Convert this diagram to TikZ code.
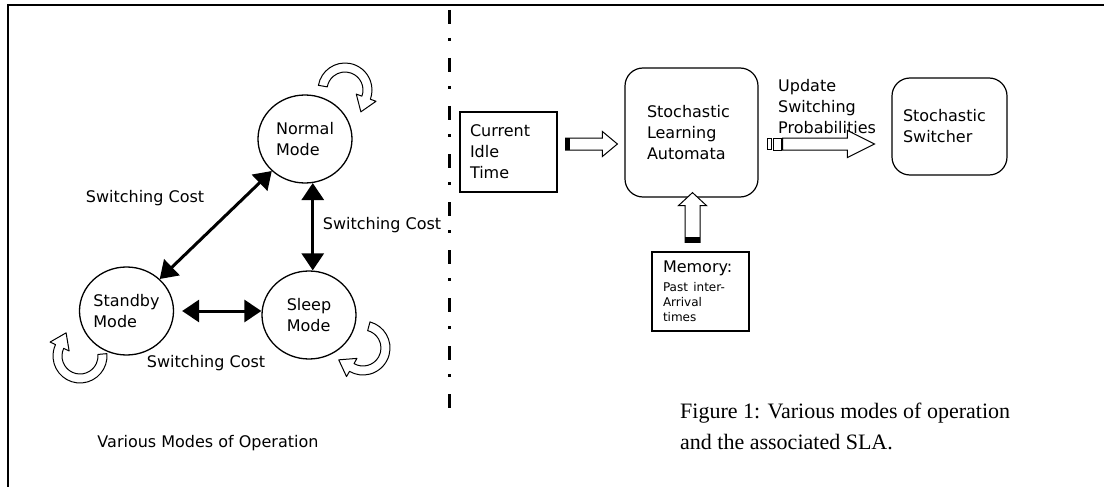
\documentclass[tikz,border=0pt]{standalone}
\usepackage{fontspec}
\setmainfont{DejaVu Sans}
\newfontfamily\capfont{Liberation Serif}
\usetikzlibrary{arrows.meta,shapes.geometric,calc}

% curved hollow arrow beside a mode: centre, start angle, end angle
\newcommand{\selfloop}[3]{%
  \draw[looparrow] ($(#1)+(#2:27)$) arc[start angle=#2, end angle=#3, radius=27]
    -- ($(#1)+(#3:33)$) -- ($(#1)+({#3-34}:27)$) -- ($(#1)+(#3:12)$)
    -- ($(#1)+(#3:18)$) arc[start angle=#3, end angle=#2, radius=18] -- cycle;}

% hollow block arrow: tail, tip, shaft half width, head half width, head length
\newcommand{\hollowarrow}[5]{%
  \coordinate (hb) at ($(#2)!#5!(#1)$);
  \draw[blockarrow] ($(#1)!#3!90:(#2)$) -- ($(hb)!#3!90:(#2)$)
    -- ($(hb)!#4!90:(#2)$) -- (#2) -- ($(hb)!#4!-90:(#2)$)
    -- ($(hb)!#3!-90:(#2)$) -- ($(#1)!#3!-90:(#2)$) -- cycle;}

\begin{document}
\begin{tikzpicture}[x=1pt, y=1pt,
    every node/.style={font=\fontsize{16}{21}\selectfont, inner sep=0pt},
    mode/.style={ellipse, draw, line width=1.3pt, minimum width=94pt,
      minimum height=88pt, align=left},
    modearrow/.style={line width=3pt,
      {Triangle[length=17pt,width=22pt]}-{Triangle[length=17pt,width=22pt]}},
    looparrow/.style={fill=white, draw, line width=1pt, line join=round},
    plainbox/.style={draw, line width=1.2pt, align=left},
    roundbox/.style={plainbox, rounded corners=18pt},
    blockarrow/.style={fill=white, draw, line width=1pt},
    divider/.style={line width=3pt, dash pattern=on 14pt off 14pt on 3pt off 17pt},
    frame/.style={line width=1.2pt},
    caption/.style={font=\capfont\fontsize{22}{31}\selectfont, align=left}]
    \useasboundingbox (0,0) rectangle (1104,-487);
    % frame and divider
    \draw[frame] (8,-487) -- (8,-5) -- (1104,-5);
    \draw[divider] (449,-10) -- (449,-408);
    % operating modes
    \node[mode] (normal)  at (305,-139)   {Normal\\Mode};
    \node[mode] (standby) at (126.5,-311) {Standby\\Mode};
    \node[mode] (sleep)   at (309,-315)   {Sleep\\Mode};
    % transitions
    \draw[modearrow] (normal) -- (standby);
    \draw[modearrow] (normal.280) -- (normal.280 |- sleep.north);
    \draw[modearrow] ([xshift=8pt]standby.east) -- (standby.east -| sleep.west);
    % switching cost labels
    \node (cost-ns) at (145,-198) {Switching Cost};
    \node (cost-nl) at (382,-225) {Switching Cost};
    \node (cost-sl) at (206,-363) {Switching Cost};
    % self loops
    \selfloop{345,-90}{170}{-20}
    \selfloop{80,-356}{5}{-205}
    \selfloop{363,-348}{75}{-120}
    % left title
    \node (modes-title) at (208,-443) {Various Modes of Operation};
    % SLA blocks
    \node[plainbox, minimum width=97pt, minimum height=80pt, text width=77pt]
      (idle) at (508.5,-152) {Current\\Idle\\Time};
    \node[roundbox, minimum width=133pt, minimum height=129pt, text width=89pt]
      (sla) at (691.5,-132.5) {Stochastic\\Learning\\Automata};
    \node[roundbox, minimum width=115pt, minimum height=97pt, text width=93pt]
      (switcher) at (949.5,-126.5) {Stochastic\\Switcher};
    \node[plainbox, minimum width=97pt, minimum height=79pt, text width=75pt]
      (memory) at (700.5,-291.5)
      {Memory:\\[-2pt]\parbox[t]{75pt}{\fontsize{12}{15}\selectfont
        Past inter-\\Arrival\\times}};
    \node[anchor=west, align=left] (update) at (778,-107)
      {Update\\Switching\\Probabilities};
    % connection points
    \coordinate (idle-out) at ($(idle.east)+(8,8)$);
    \coordinate (sla-in)   at ($(sla.west |- idle-out)+(-7,0)$);
    \coordinate (sla-out)  at ($(sla.east |- idle-out)+(24,0)$);
    \coordinate (sw-in)    at ($(switcher.west |- sla-out)+(-17,0)$);
    \coordinate (mem-out)  at ($(memory.north)+(-8,9)$);
    \coordinate (sla-low)  at ($(sla.south -| mem-out)+(0,5)$);
    % hollow arrows
    \hollowarrow{idle-out}{sla-in}{6pt}{12.5pt}{15pt}
    \fill (idle-out) ++(0,-6) rectangle ++(4,12);
    \hollowarrow{sla-out}{sw-in}{6pt}{13.5pt}{27pt}
    \draw[line width=1pt] (sla-out) ++(-15,-5.5) rectangle ++(4,11);
    \draw[line width=1pt] (sla-out) ++(-9,-6) rectangle ++(8,12);
    \hollowarrow{mem-out}{sla-low}{7.5pt}{14pt}{13pt}
    \fill (mem-out) ++(-7.5,0) rectangle ++(15,5);
    % caption
    \node[caption, anchor=west] (fig-caption) at (680,-426)
      {Figure 1: Various modes of operation\\and the associated SLA.};
\end{tikzpicture}
\end{document}
